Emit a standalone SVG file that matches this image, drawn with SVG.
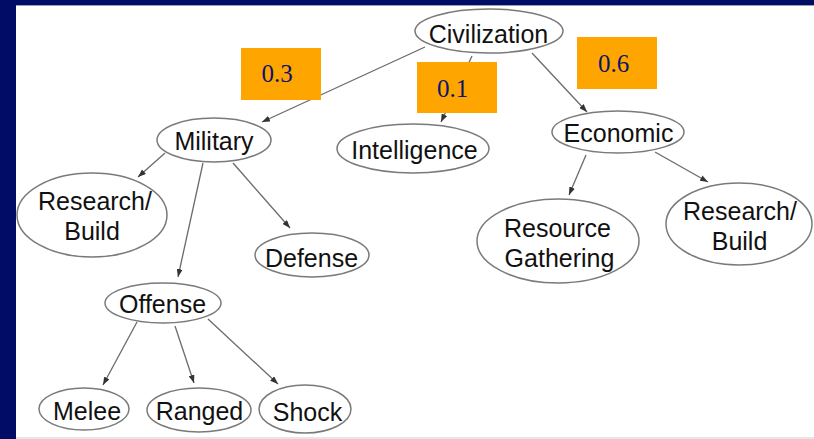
<svg xmlns="http://www.w3.org/2000/svg" width="814" height="439" viewBox="0 0 814 439">
<defs>
<style>
.bg{fill:#000c66}
.panel{fill:#ffffff}
.node ellipse{fill:#ffffff;stroke:#7a7a7a;stroke-width:1.5}
.node text{font-family:"Liberation Sans",Arial,sans-serif;font-size:25px;fill:#111111;text-anchor:middle}
.edge{stroke:#6a6a6a;stroke-width:1.3;fill:none;marker-end:url(#arr)}
.wbox rect{fill:#ffa500}
.wbox text{font-family:"Liberation Serif","Times New Roman",serif;font-size:25px;fill:#0a1470;text-anchor:middle}
</style>
<marker id="arr" markerWidth="8" markerHeight="6" refX="8" refY="3" orient="auto" markerUnits="userSpaceOnUse">
<path d="M0,0 L8,3 L0,6 Z" fill="#333333"/>
</marker>
</defs>
<rect class="bg" x="0" y="0" width="814" height="439"/>
<rect x="16" y="5" width="798" height="2" fill="#a0a0a8"/>
<rect class="panel" x="16" y="6" width="798" height="431"/>
<rect x="16" y="437" width="798" height="2" fill="#e6e6e6"/>
<g id="connectors">
<line class="edge" x1="425" y1="47" x2="262" y2="122"/>
<line class="edge" x1="472" y1="56" x2="441" y2="122"/>
<line class="edge" x1="532" y1="53" x2="587" y2="112"/>
<line class="edge" x1="165" y1="153" x2="138" y2="177"/>
<line class="edge" x1="203" y1="163" x2="178" y2="277"/>
<line class="edge" x1="233" y1="163" x2="290" y2="228"/>
<line class="edge" x1="586" y1="155" x2="569" y2="195"/>
<line class="edge" x1="655" y1="152" x2="708" y2="182"/>
<line class="edge" x1="137" y1="322" x2="103" y2="385"/>
<line class="edge" x1="175" y1="326" x2="194" y2="383"/>
<line class="edge" x1="208" y1="319" x2="278" y2="384"/>
</g>
<g id="civilization" class="node"><ellipse cx="489" cy="31" rx="74" ry="22"/><text x="488.5" y="43">Civilization</text></g>
<g id="military" class="node"><ellipse cx="214" cy="140" rx="57" ry="22"/><text x="214" y="150">Military</text></g>
<g id="intelligence" class="node"><ellipse cx="413" cy="148.5" rx="76" ry="24.5"/><text x="414.5" y="159">Intelligence</text></g>
<g id="economic" class="node"><ellipse cx="618" cy="132" rx="66" ry="21"/><text x="618.5" y="142">Economic</text></g>
<g id="research-build-mil" class="node"><ellipse cx="92" cy="215" rx="75" ry="42"/><text x="95" y="210">Research/</text><text x="92" y="240">Build</text></g>
<g id="defense" class="node"><ellipse cx="312" cy="255" rx="57" ry="22"/><text x="311.5" y="267">Defense</text></g>
<g id="offense" class="node"><ellipse cx="163" cy="303" rx="58" ry="20"/><text x="162.5" y="313">Offense</text></g>
<g id="melee" class="node"><ellipse cx="84" cy="409" rx="45" ry="21"/><text x="87" y="420">Melee</text></g>
<g id="ranged" class="node"><ellipse cx="199" cy="410" rx="52" ry="22"/><text x="199.5" y="420">Ranged</text></g>
<g id="shock" class="node"><ellipse cx="305" cy="409" rx="46" ry="24"/><text x="307.5" y="421">Shock</text></g>
<g id="resource-gathering" class="node"><ellipse cx="558" cy="241" rx="81" ry="42"/><text x="557.5" y="237">Resource</text><text x="559.5" y="267">Gathering</text></g>
<g id="research-build-eco" class="node"><ellipse cx="739" cy="224" rx="73" ry="41"/><text x="740" y="220">Research/</text><text x="739.5" y="250">Build</text></g>
<g id="weight-03" class="wbox"><rect x="241" y="48" width="80" height="52"/><text x="277" y="82">0.3</text></g>
<g id="weight-01" class="wbox"><rect x="417" y="62" width="80" height="51"/><text x="452.5" y="97">0.1</text></g>
<g id="weight-06" class="wbox"><rect x="577" y="37" width="80" height="52"/><text x="613.5" y="72">0.6</text></g>
</svg>
